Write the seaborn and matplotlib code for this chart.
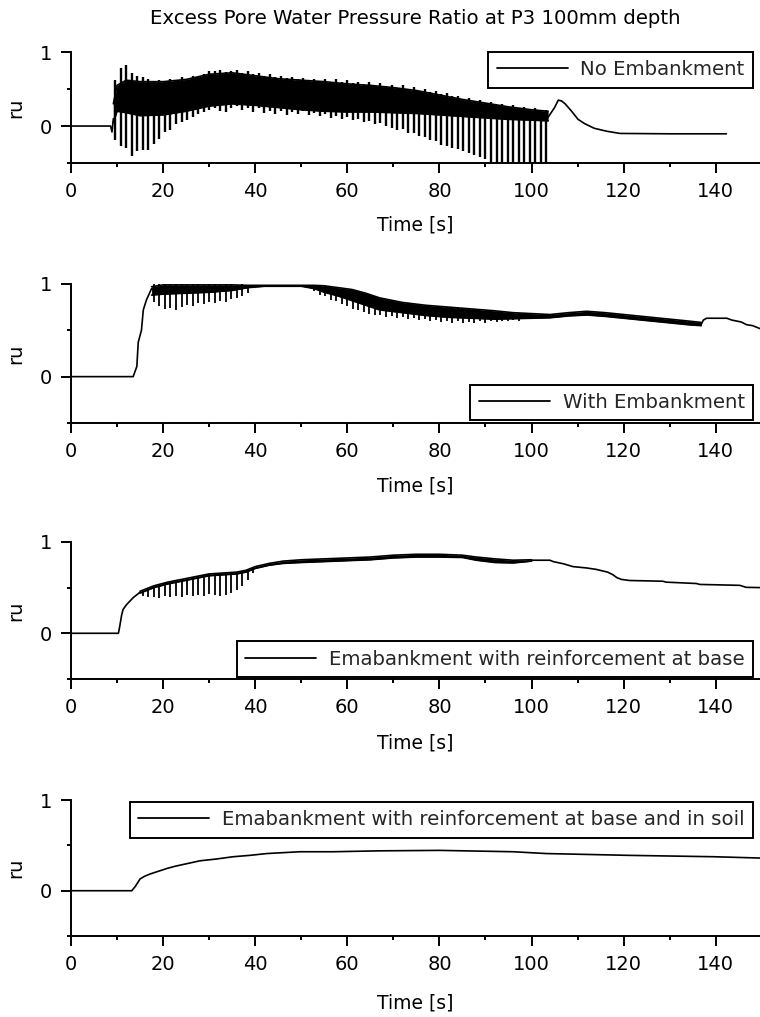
import matplotlib
matplotlib.use("Agg")
import matplotlib.pyplot as plt
from matplotlib.lines import Line2D
from matplotlib.ticker import MultipleLocator, FixedLocator
import numpy as np
import pandas as pd
import seaborn as sns

sns.set_theme(style="ticks")
plt.rcParams["font.family"] = ["DejaVu Sans"]

TITLE = "Excess Pore Water Pressure Ratio at P3 100mm depth"
X_LABEL = "Time [s]"
Y_LABEL = "ru"
X_TICKS = [0, 20, 40, 60, 80, 100, 120, 140]
Y_TICKS = [0, 1]

labels = [
    "No Embankment",
    "With Embankment",
    "Emabankment with reinforcement at base",
    "Emabankment with reinforcement at base and in soil",
]

# ---------------- Panel 1: no embankment ----------------
p1_pre_t = [0, 8.6, 8.9, 9.2]
p1_pre_v = [0.0, 0.0, -0.08, 0.10]
p1_band_t = [9.2, 10.0, 12.0, 15.0, 20.0, 25.0, 30.0, 35.0, 40.0, 45.0, 50.0,
             55.0, 60.0, 65.0, 70.0, 75.0, 80.0, 85.0, 90.0, 95.0, 100.0, 103.6]
p1_band_hi = [0.30, 0.55, 0.62, 0.60, 0.60, 0.63, 0.70, 0.72, 0.68, 0.64, 0.62,
              0.60, 0.57, 0.55, 0.52, 0.48, 0.42, 0.36, 0.31, 0.26, 0.22, 0.20]
p1_band_lo = [0.05, 0.20, 0.18, 0.14, 0.15, 0.20, 0.27, 0.30, 0.28, 0.25, 0.22,
              0.20, 0.19, 0.19, 0.18, 0.17, 0.15, 0.13, 0.11, 0.09, 0.08, 0.07]
p1_spike_t = [9.6, 10.8, 12.0, 13.2, 14.4, 15.6, 16.8, 18.0, 19.2, 20.4,
              21.6, 22.8, 24.0, 25.2, 26.4, 27.6, 28.8, 30.0, 31.2, 32.4,
              33.6, 34.8, 36.0, 37.2, 38.4, 39.6, 40.8, 42.0, 43.2, 44.4,
              45.6, 46.8, 48.0, 49.2, 50.4, 51.6, 52.8, 54.0, 55.2, 56.4,
              57.6, 58.8, 60.0, 61.2, 62.4, 63.6, 64.8, 66.0, 67.2, 68.4,
              69.6, 70.8, 72.0, 73.2, 74.4, 75.6, 76.8, 78.0, 79.2, 80.4,
              81.6, 82.8, 84.0, 85.2, 86.4, 87.6, 88.8, 90.0, 91.2, 92.4,
              93.6, 94.8, 96.0, 97.2, 98.4, 99.6, 100.8, 102.0, 103.2]
p1_spike_lo = [-0.19, -0.27, -0.30, -0.40, -0.34, -0.32, -0.33, -0.24, -0.18, -0.08,
               -0.05, 0.03, 0.06, 0.08, 0.12, 0.16, 0.19, 0.22, 0.25, 0.21,
               0.19, 0.24, 0.27, 0.22, 0.25, 0.19, 0.24, 0.18, 0.21, 0.16,
               0.20, 0.15, 0.19, 0.16, 0.20, 0.15, 0.18, 0.13, 0.16, 0.11,
               0.14, 0.10, 0.12, 0.08, 0.10, 0.06, 0.07, 0.03, 0.04, 0.00,
               -0.02, -0.05, -0.04, -0.09, -0.10, -0.14, -0.15, -0.19, -0.20, -0.25,
               -0.27, -0.30, -0.31, -0.34, -0.36, -0.39, -0.42, -0.45, -0.55, -0.55,
               -0.55, -0.55, -0.55, -0.55, -0.55, -0.55, -0.55, -0.55, -0.55]
p1_spike_hi = [0.62, 0.78, 0.82, 0.72, 0.68, 0.66, 0.63, 0.60, 0.62, 0.60,
               0.64, 0.62, 0.66, 0.64, 0.68, 0.66, 0.70, 0.75, 0.74, 0.76,
               0.73, 0.75, 0.76, 0.72, 0.74, 0.71, 0.72, 0.68, 0.70, 0.66,
               0.68, 0.65, 0.66, 0.63, 0.65, 0.62, 0.64, 0.60, 0.63, 0.60,
               0.63, 0.59, 0.62, 0.58, 0.60, 0.56, 0.60, 0.55, 0.58, 0.54,
               0.56, 0.52, 0.55, 0.50, 0.53, 0.48, 0.50, 0.46, 0.47, 0.43,
               0.44, 0.40, 0.41, 0.37, 0.38, 0.34, 0.35, 0.31, 0.33, 0.29,
               0.30, 0.26, 0.28, 0.24, 0.26, 0.22, 0.24, 0.20, 0.22]
p1_post_t = [103.6, 105.0, 105.8, 106.5, 107.3, 108.7, 110.1, 111.6, 113.6,
             116.3, 119.2, 130.0, 142.3]
p1_post_v = [0.12, 0.25, 0.35, 0.34, 0.30, 0.20, 0.09, 0.03, -0.03,
             -0.07, -0.10, -0.105, -0.105]

# ---------------- Panel 2: with embankment ----------------
p2_pre_t = [0, 13.5, 14.3, 14.6, 15.3, 15.7, 16.4, 17.5]
p2_pre_v = [0.0, 0.0, 0.11, 0.37, 0.50, 0.72, 0.83, 0.95]
p2_band_t = [17.5, 20, 25, 30, 35, 38.4, 42, 46, 50, 52.8, 55, 58, 61, 64, 67,
             72, 77, 82, 87, 92, 96, 100, 104, 108, 112, 116, 120, 125, 130,
             134, 136.8]
p2_band_hi = [0.97, 0.99, 0.99, 0.99, 0.99, 0.985, 0.985, 0.985, 0.985, 0.985,
              0.98, 0.96, 0.94, 0.90, 0.85, 0.80, 0.77, 0.75, 0.73, 0.71, 0.69,
              0.68, 0.67, 0.69, 0.705, 0.69, 0.67, 0.645, 0.62, 0.60, 0.585]
p2_band_lo = [0.88, 0.89, 0.90, 0.91, 0.93, 0.96, 0.975, 0.975, 0.975, 0.95,
              0.91, 0.87, 0.82, 0.77, 0.72, 0.69, 0.66, 0.64, 0.63, 0.62, 0.625,
              0.63, 0.635, 0.655, 0.665, 0.65, 0.63, 0.605, 0.58, 0.56, 0.55]
p2_spike_t = [18.0, 19.2, 20.4, 21.6, 22.8, 24.0, 25.2, 26.4, 27.6, 28.8,
              30.0, 31.2, 32.4, 33.6, 34.8, 36.0, 37.2, 38.4,
              52.8, 54.0, 55.2, 56.4, 57.6, 58.8, 60.0, 61.2, 62.4, 63.6,
              64.8, 66.0, 67.2, 68.4, 69.6, 70.8, 72.0, 73.2, 74.4, 75.6,
              76.8, 78.0, 79.2, 80.4, 81.6, 82.8, 84.0, 85.2, 86.4, 87.6,
              88.8, 90.0, 91.2, 92.4, 93.6, 94.8, 96.0, 97.2, 98.4]
p2_spike_lo = [0.80, 0.76, 0.73, 0.74, 0.72, 0.75, 0.77, 0.76, 0.79, 0.78,
               0.80, 0.79, 0.82, 0.81, 0.84, 0.85, 0.87, 0.90,
               0.92, 0.88, 0.87, 0.83, 0.82, 0.78, 0.76, 0.73, 0.72, 0.70,
               0.68, 0.67, 0.66, 0.64, 0.65, 0.63, 0.64, 0.62, 0.63, 0.61,
               0.62, 0.60, 0.61, 0.59, 0.60, 0.58, 0.60, 0.58, 0.59, 0.58,
               0.60, 0.58, 0.60, 0.59, 0.60, 0.60, 0.61, 0.60, 0.62]
p2_spike_hi = [1.00, 1.00, 1.00, 0.99, 1.00, 1.00, 0.99, 1.00, 1.00, 0.99,
               1.00, 1.00, 0.99, 1.00, 1.00, 0.99, 1.00, 0.99,
               0.99, 0.98, 0.98, 0.97, 0.96, 0.94, 0.92, 0.90, 0.88, 0.86,
               0.85, 0.84, 0.83, 0.82, 0.81, 0.80, 0.80, 0.79, 0.78, 0.78,
               0.77, 0.77, 0.76, 0.76, 0.75, 0.75, 0.74, 0.73, 0.73, 0.72,
               0.72, 0.71, 0.71, 0.70, 0.70, 0.70, 0.69, 0.69, 0.69]
p2_post_t = [136.8, 137.3, 138.0, 142.4, 143.5, 145.5, 146.7, 148.0, 150.0]
p2_post_v = [0.56, 0.61, 0.63, 0.63, 0.61, 0.59, 0.56, 0.55, 0.51]

# ---------------- Panel 3: reinforcement at base ----------------
p3_pre_t = [0, 10.3, 10.6, 11.0, 11.3, 12.0, 13.5, 15.0]
p3_pre_v = [0.0, 0.0, 0.08, 0.20, 0.26, 0.31, 0.39, 0.45]
p3_band_t = [15, 18, 21, 24, 27, 30, 33, 36, 38, 40, 43, 46, 50, 55, 60, 65,
             70, 75, 80, 85, 88, 92, 96, 100]
p3_band_hi = [0.46, 0.52, 0.56, 0.59, 0.62, 0.65, 0.66, 0.67, 0.69, 0.73, 0.765,
              0.79, 0.805, 0.815, 0.825, 0.835, 0.855, 0.865, 0.865, 0.855,
              0.835, 0.815, 0.80, 0.805]
p3_band_lo = [0.44, 0.50, 0.54, 0.57, 0.60, 0.63, 0.64, 0.65, 0.67, 0.71, 0.745,
              0.765, 0.775, 0.785, 0.795, 0.805, 0.825, 0.835, 0.835, 0.83,
              0.80, 0.775, 0.77, 0.79]
p3_spike_t = [15.6, 16.8, 18.0, 19.2, 20.4, 21.6, 22.8, 24.0, 25.2, 26.4,
              27.6, 28.8, 30.0, 31.2, 32.4, 33.6, 34.8, 36.0, 37.2, 38.4, 39.6]
p3_spike_lo = [0.41, 0.40, 0.40, 0.39, 0.41, 0.40, 0.41, 0.40, 0.42, 0.41,
               0.42, 0.41, 0.43, 0.42, 0.41, 0.42, 0.44, 0.47, 0.52, 0.58, 0.66]
p3_spike_hi = [0.46, 0.49, 0.51, 0.53, 0.55, 0.56, 0.58, 0.59, 0.60, 0.62,
               0.63, 0.64, 0.65, 0.66, 0.66, 0.66, 0.67, 0.67, 0.68, 0.70, 0.72]
p3_post_t = [100, 104.0, 104.7, 107.0, 109.0, 112.0, 114.0, 116.5, 117.7, 118.5,
             119.5, 121.3, 128.5, 129.2, 135.8, 136.5, 145.2, 146.6, 150.0]
p3_post_v = [0.80, 0.80, 0.785, 0.76, 0.73, 0.715, 0.70, 0.67, 0.64, 0.61,
             0.59, 0.578, 0.57, 0.56, 0.545, 0.535, 0.525, 0.503, 0.50]

# ---------------- Panel 4: reinforcement at base and in soil ----------------
p4_t = [0, 13.2, 14.0, 15.0, 16.0, 17.2, 19.0, 20.8, 22.6, 24.4, 28.0, 31.6,
        35.2, 38.8, 42.5, 49.7, 56.9, 67.0, 80.0, 96.0, 103.2, 121.3, 139.5, 150.0]
p4_v = [0.0, 0.0, 0.05, 0.13, 0.16, 0.185, 0.215, 0.245, 0.27, 0.29, 0.33, 0.35,
        0.375, 0.39, 0.41, 0.43, 0.43, 0.44, 0.445, 0.43, 0.41, 0.39, 0.375, 0.36]

panels = [
    dict(lines=[(p1_pre_t, p1_pre_v), (p1_band_t, p1_band_hi), (p1_band_t, p1_band_lo),
                (p1_post_t, p1_post_v)],
         band=(p1_band_t, p1_band_lo, p1_band_hi),
         spikes=(p1_spike_t, p1_spike_lo, p1_spike_hi), spike_lw=1.7,
         rect=[0.0934, 0.8397, 0.9066, 0.1091],
         legend=dict(loc="upper right", bbox_to_anchor=(0.9898, 1.0)),
         xlabel_y=-0.56),
    dict(lines=[(p2_pre_t, p2_pre_v), (p2_band_t, p2_band_hi), (p2_band_t, p2_band_lo),
                (p2_post_t, p2_post_v)],
         band=(p2_band_t, p2_band_lo, p2_band_hi),
         spikes=(p2_spike_t, p2_spike_lo, p2_spike_hi), spike_lw=1.3,
         rect=[0.0934, 0.5841, 0.9066, 0.1367],
         legend=dict(loc="lower right", bbox_to_anchor=(0.9898, 0.02)),
         xlabel_y=-0.455),
    dict(lines=[(p3_pre_t, p3_pre_v), (p3_band_t, p3_band_hi), (p3_band_t, p3_band_lo),
                (p3_post_t, p3_post_v)],
         band=(p3_band_t, p3_band_lo, p3_band_hi),
         spikes=(p3_spike_t, p3_spike_lo, p3_spike_hi), spike_lw=1.3,
         rect=[0.0934, 0.3324, 0.9066, 0.1347],
         legend=dict(loc="lower right", bbox_to_anchor=(0.9898, 0.015)),
         xlabel_y=-0.47),
    dict(lines=[(p4_t, p4_v)], band=None, spikes=None, spike_lw=1.3,
         rect=[0.0934, 0.0796, 0.9066, 0.1337],
         legend=dict(loc="upper right", bbox_to_anchor=(0.9898, 0.985)),
         xlabel_y=-0.49),
]


def segments_frame(segments):
    rows = []
    for k, (ts, vs) in enumerate(segments):
        rows.extend((k, t, v) for t, v in zip(ts, vs))
    return pd.DataFrame(rows, columns=["seg", "t", "v"])


fig = plt.figure(figsize=(7.6, 10.17), dpi=100)
fig.patch.set_facecolor("white")

for spec, label in zip(panels, labels):
    ax = fig.add_axes(spec["rect"])
    ax.set_facecolor("white")

    if spec["band"] is not None:
        bt, blo, bhi = spec["band"]
        ax.fill_between(bt, blo, bhi, color="black", linewidth=0)
    if spec["spikes"] is not None:
        st, slo, shi = spec["spikes"]
        ax.vlines(st, slo, shi, color="black", linewidth=spec["spike_lw"])

    df = segments_frame(spec["lines"])
    sns.lineplot(data=df, x="t", y="v", units="seg", estimator=None, sort=False,
                 color="black", linewidth=1.2, ax=ax, legend=False)

    ax.set_xlim(0, 149.6)
    ax.set_ylim(-0.5, 1.0)
    ax.xaxis.set_major_locator(FixedLocator(X_TICKS))
    ax.xaxis.set_minor_locator(MultipleLocator(10))
    ax.yaxis.set_major_locator(FixedLocator(Y_TICKS))
    ax.yaxis.set_minor_locator(FixedLocator([-0.5, 0.5]))
    ax.tick_params(axis="both", which="major", direction="out", length=7.5,
                   width=1.4, color="black", labelsize=14, pad=6, labelcolor="black")
    ax.tick_params(axis="both", which="minor", direction="out", length=3,
                   width=1.4, color="black")
    sns.despine(ax=ax)
    for side in ("left", "bottom"):
        ax.spines[side].set_linewidth(1.4)
        ax.spines[side].set_color("black")

    ax.set_xlabel(X_LABEL, fontsize=13.5, color="black")
    ax.xaxis.set_label_coords(0.5, spec["xlabel_y"])
    ax.xaxis.label.set_va("center")
    ax.set_ylabel(Y_LABEL, fontsize=14, color="black")
    ax.yaxis.set_label_coords(-0.08, 0.5)
    ax.yaxis.label.set_va("center")

    handle = Line2D([0], [0], color="black", linewidth=1.3)
    leg = ax.legend([handle], [label], frameon=True, fancybox=False,
                    edgecolor="black", framealpha=1, borderaxespad=0,
                    handlelength=3.6, handletextpad=0.65, fontsize=14.2,
                    borderpad=0.42, **spec["legend"])
    leg.get_frame().set_linewidth(1.4)

fig.text(0.547, 1 - 18 / 1017, TITLE, ha="center", va="center",
         fontsize=14.2, color="black")

fig.savefig("out.png", dpi=100, facecolor="white")
